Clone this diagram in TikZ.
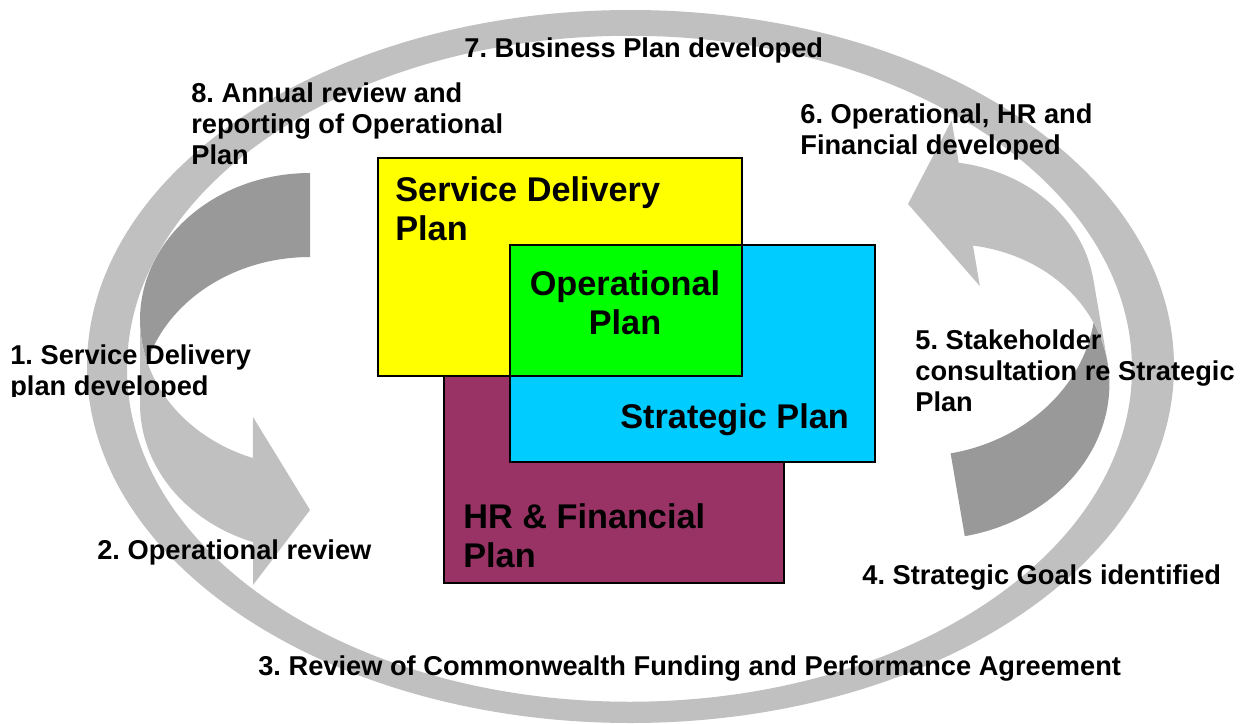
\documentclass[tikz,border=0pt]{standalone}
\usepackage{fontspec}
\setmainfont{Liberation Sans}
\frenchspacing
\definecolor{lightshade}{HTML}{C0C0C0}
\definecolor{darkshade}{HTML}{999999}
\definecolor{sdpyellow}{HTML}{FFFF00}
\definecolor{opgreen}{HTML}{00FF00}
\definecolor{stratcyan}{HTML}{00CCFF}
\definecolor{hrmaroon}{HTML}{993366}
% curved arrow drawn in pixel units; tail at top right, head at bottom right
\newcommand{\curvedshape}{%
  % darker back side of the ribbon
  \fill[darkshade] plot[domain=270:163.4,samples=60] ({310+170*cos(\x)},{319.8+146.8*sin(\x)})
    -- plot[domain=196.6:270,samples=60] ({310+170*cos(\x)},{403.8+146.8*sin(\x)}) -- cycle;
  % lighter front of the ribbon with the arrow head
  \fill[lightshade] (140,319.8)
    -- plot[domain=180:109.6,samples=60] ({310+170*cos(\x)},{319.8+146.8*sin(\x)})
    -- (253,417) -- (310,510) -- (253,585) -- (253,542.1)
    -- plot[domain=109.6:180,samples=60] ({310+170*cos(\x)},{403.8+146.8*sin(\x)})
    -- cycle;
}
\begin{document}
\begin{tikzpicture}[x=0.2mm,y=-0.2mm,
  steptext/.style={anchor=base west,inner sep=0pt,font=\bfseries\fontsize{15.5}{17.9}\selectfont},
  boxtext/.style={anchor=base west,inner sep=0pt,font=\bfseries\fontsize{19.5}{22.7}\selectfont},
  planbox/.style={draw=black,line width=0.9pt}]
\useasboundingbox (0,0) rectangle (1241,724);
\fill[white] (0,0) rectangle (1241,724);

% outer cycle ring
\fill[lightshade,even odd rule]
  (630.5,366.5) ellipse [x radius=543.5,y radius=356.5]
  (629.5,368.75) ellipse [x radius=502.5,y radius=333];

% left curved arrow
\curvedshape
% right curved arrow (same ribbon turned round)
\begin{scope}[shift={(908,204)},rotate=-170.3,shift={(-310,-510)}]
  \curvedshape
\end{scope}

% overlapping plan boxes
\path[planbox,fill=hrmaroon] (444,300) rectangle (784,583);
\path[planbox,fill=sdpyellow] (378,158) rectangle (742,376);
\path[planbox,fill=stratcyan] (510,245) rectangle (875,462);
\path[planbox,fill=opgreen] (510,245) rectangle (742,376);

\node[boxtext] (sdptext) at (395,201) {\begin{tabular}[t]{@{}l@{}}Service Delivery\\Plan\end{tabular}};
\node[boxtext,anchor=base] (optext) at (625,295) {\begin{tabular}[t]{@{}c@{}}Operational\\Plan\end{tabular}};
\node[boxtext] (strattext) at (620,428) {Strategic Plan};
\node[boxtext] (hrtext) at (463,528) {\begin{tabular}[t]{@{}l@{}}HR \& Financial\\Plan\end{tabular}};

% cycle step labels
\begin{scope}
  \clip (0,0) rectangle (400,396.5);
  \node[steptext] (s1) at (10,364) {\begin{tabular}[t]{@{}l@{}}1. Service Delivery\\plan developed\end{tabular}};
\end{scope}
\node[steptext] (s2) at (97,559) {2. Operational review};
\node[steptext] (s3) at (258,675) {3. Review of Commonwealth Funding and Performance Agreement};
\node[steptext] (s4) at (862,584) {4. Strategic Goals identified};
\node[steptext] (s5) at (915,349) {\begin{tabular}[t]{@{}l@{}}5. Stakeholder\\consultation re Strategic\\Plan\end{tabular}};
\node[steptext] (s6) at (800,123) {\begin{tabular}[t]{@{}l@{}}6. Operational, HR and\\Financial developed\end{tabular}};
\node[steptext] (s7) at (464,57) {7. Business Plan developed};
\node[steptext] (s8) at (191,102) {\begin{tabular}[t]{@{}l@{}}8. Annual review and\\reporting of Operational\\Plan\end{tabular}};
\end{tikzpicture}
\end{document}
